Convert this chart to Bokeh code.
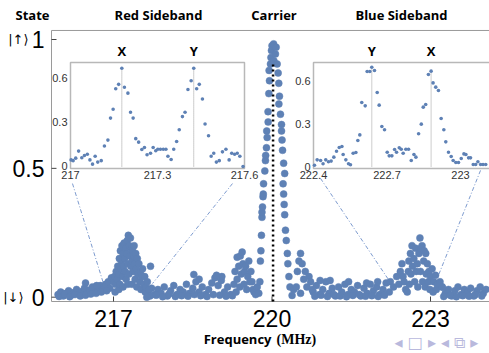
from bokeh.plotting import figure
from bokeh.models import Range1d
from bokeh.embed import file_html
from bokeh.resources import INLINE
from bokeh.core.properties import value

# ---------------- data ----------------
# main scan: (frequency MHz, population of |up>)
background_points = [
    (215.95, 0.010), (216.00, 0.020), (216.05, 0.005), (216.10, 0.015), (216.15, 0.025), (216.20, 0.008),
    (216.25, 0.018), (216.30, 0.030), (216.35, 0.012), (216.40, 0.022), (216.45, 0.035), (216.50, 0.015),
    (216.55, 0.028), (216.60, 0.040), (216.65, 0.020), (216.70, 0.032), (216.75, 0.045), (216.80, 0.030),
    (216.85, 0.050), (216.90, 0.060), (216.93, 0.035), (216.96, 0.075),
    (215.97, 0.003), (216.07, 0.012), (216.17, 0.002), (216.27, 0.010), (216.37, 0.005), (216.47, 0.008),
    (216.57, 0.012), (216.67, 0.015), (216.77, 0.020), (216.87, 0.025), (216.47, 0.055), (216.68, 0.045),
    (217.66, 0.020), (217.72, 0.035), (217.78, 0.010), (217.84, 0.030), (217.90, 0.015), (217.96, 0.040),
    (218.02, 0.005), (218.08, 0.025), (218.14, 0.045), (218.20, 0.010), (218.26, 0.030), (218.32, 0.020),
    (218.38, 0.050), (218.44, 0.015), (218.50, 0.035), (218.56, 0.060), (218.62, 0.020), (218.68, 0.040),
    (218.74, 0.010), (218.80, 0.030), (218.86, 0.055), (218.92, 0.075), (218.98, 0.045), (219.04, 0.065),
    (219.10, 0.020), (219.16, 0.040), (219.22, 0.010),
    (217.69, 0.005), (217.81, 0.008), (217.93, 0.002), (218.05, 0.012), (218.17, 0.003), (218.29, 0.006),
    (218.41, 0.004), (218.53, 0.010), (218.65, 0.006), (218.77, 0.003), (218.89, 0.010), (219.01, 0.008),
    (219.13, 0.004), (219.25, 0.006), (218.52, 0.088), (218.62, 0.070), (219.05, 0.080), (218.95, 0.085),
    (220.78, 0.020), (220.84, 0.045), (220.90, 0.010), (220.96, 0.030), (221.02, 0.060), (221.08, 0.015),
    (221.14, 0.035), (221.20, 0.005), (221.26, 0.040), (221.32, 0.020), (221.38, 0.050), (221.44, 0.010),
    (221.50, 0.030), (221.56, 0.020), (221.62, 0.045), (221.68, 0.005), (221.74, 0.035), (221.80, 0.015),
    (221.86, 0.050), (221.92, 0.025), (221.98, 0.040), (222.04, 0.010), (222.10, 0.030), (222.16, 0.055),
    (222.22, 0.020),
    (220.81, 0.004), (220.93, 0.008), (221.05, 0.003), (221.17, 0.010), (221.29, 0.005), (221.41, 0.002),
    (221.53, 0.007), (221.65, 0.010), (221.77, 0.004), (221.89, 0.006), (222.01, 0.003), (222.13, 0.008),
    (220.91, 0.065), (221.10, 0.065), (221.45, 0.060), (221.79, 0.055), (222.00, 0.060),
    (223.22, 0.040), (223.28, 0.015), (223.34, 0.030), (223.40, 0.005), (223.46, 0.025), (223.52, 0.040),
    (223.58, 0.010), (223.64, 0.030), (223.70, 0.020), (223.76, 0.035), (223.82, 0.005), (223.88, 0.025),
    (223.94, 0.040), (224.00, 0.015), (224.05, 0.030),
    (223.25, 0.003), (223.37, 0.008), (223.49, 0.002), (223.61, 0.006), (223.73, 0.004), (223.85, 0.010),
    (223.97, 0.005),
]

red_sideband_points = [
    (217.00, 0.06), (217.02, 0.08), (217.03, 0.02), (217.04, 0.05), (217.05, 0.10), (217.07, 0.07),
    (217.08, 0.12), (217.10, 0.09), (217.10, 0.03), (217.11, 0.15), (217.12, 0.05), (217.13, 0.18),
    (217.14, 0.11), (217.15, 0.14), (217.16, 0.20), (217.17, 0.08), (217.18, 0.17), (217.18, 0.04),
    (217.19, 0.12), (217.20, 0.21), (217.21, 0.15), (217.22, 0.10), (217.23, 0.19), (217.24, 0.07),
    (217.25, 0.17), (217.26, 0.22), (217.27, 0.13), (217.27, 0.05), (217.28, 0.24), (217.29, 0.09),
    (217.30, 0.20), (217.31, 0.16), (217.32, 0.23), (217.33, 0.12), (217.34, 0.19), (217.35, 0.14),
    (217.35, 0.05), (217.36, 0.18), (217.37, 0.10), (217.38, 0.16), (217.39, 0.20), (217.40, 0.13),
    (217.41, 0.07), (217.42, 0.17), (217.43, 0.11), (217.44, 0.04), (217.45, 0.15), (217.46, 0.09),
    (217.48, 0.13), (217.50, 0.06), (217.51, 0.10), (217.52, 0.03), (217.53, 0.08), (217.55, 0.11),
    (217.57, 0.05), (217.59, 0.08), (217.60, 0.02), (217.61, 0.04), (217.63, 0.00), (217.64, 0.06),
    (217.67, 0.03), (217.70, 0.12),
]

carrier_points = [
    (219.28, 0.05), (219.30, 0.10), (219.32, 0.02), (219.34, 0.155), (219.34, 0.07), (219.37, 0.12),
    (219.39, 0.04), (219.40, 0.16), (219.42, 0.09), (219.435, 0.175), (219.45, 0.13), (219.47, 0.05),
    (219.48, 0.10), (219.50, 0.12), (219.52, 0.03), (219.54, 0.08), (219.56, 0.14), (219.58, 0.06),
    (219.60, 0.10), (219.62, 0.06), (219.64, 0.03), (219.66, 0.02), (219.69, 0.01), (219.72, 0.04),
    (219.75, 0.015), (219.77, 0.06), (219.78, 0.14), (219.79, 0.18), (219.80, 0.24), (219.81, 0.31),
    (219.81, 0.33), (219.82, 0.35), (219.83, 0.39), (219.835, 0.40), (219.84, 0.44), (219.864, 0.49),
    (219.876, 0.53), (219.88, 0.55), (219.895, 0.58), (219.908, 0.62), (219.90, 0.645), (219.927, 0.68),
    (219.925, 0.72), (219.94, 0.79), (219.952, 0.84), (219.945, 0.88), (219.971, 0.905), (219.98, 0.93),
    (219.99, 0.957), (220.00, 0.976), (220.03, 0.983), (220.078, 0.97), (220.065, 0.944), (220.035, 0.918),
    (220.097, 0.905), (220.116, 0.87), (220.128, 0.83), (220.141, 0.78), (220.13, 0.75), (220.16, 0.71),
    (220.18, 0.67), (220.18, 0.645), (220.19, 0.61), (220.20, 0.57), (220.22, 0.52), (220.24, 0.48),
    (220.21, 0.44), (220.22, 0.40), (220.23, 0.36), (220.24, 0.32), (220.255, 0.26), (220.27, 0.22),
    (220.29, 0.17), (220.30, 0.13), (220.32, 0.08), (220.34, 0.04), (220.38, 0.007), (220.41, 0.03),
    (220.46, 0.04), (220.48, 0.10), (220.51, 0.14), (220.54, 0.17), (220.54, 0.015), (220.57, 0.13),
    (220.60, 0.07), (220.63, 0.10), (220.66, 0.04), (220.70, 0.08), (220.73, 0.06), (220.76, 0.03),
]

blue_sideband_points = [
    (222.24, 0.06), (222.30, 0.04), (222.36, 0.08), (222.40, 0.05), (222.43, 0.10), (222.46, 0.13),
    (222.48, 0.08), (222.50, 0.06), (222.53, 0.03), (222.56, 0.02), (222.58, 0.10), (222.59, 0.14),
    (222.60, 0.05), (222.62, 0.17), (222.63, 0.09), (222.65, 0.20), (222.66, 0.12), (222.685, 0.15),
    (222.70, 0.06), (222.72, 0.19), (222.73, 0.10), (222.75, 0.13), (222.76, 0.04), (222.78, 0.17),
    (222.80, 0.23), (222.81, 0.10), (222.82, 0.19), (222.84, 0.20), (222.85, 0.06), (222.87, 0.14),
    (222.88, 0.18), (222.90, 0.04), (222.91, 0.17), (222.92, 0.09), (222.94, 0.13), (222.96, 0.06),
    (222.97, 0.10), (222.99, 0.03), (223.00, 0.08), (223.03, 0.11), (223.05, 0.02), (223.06, 0.06),
    (223.095, 0.085), (223.11, 0.03), (223.13, 0.05), (223.18, 0.06), (223.22, 0.04),
]

# insets: fine scans
red_inset_points = [
    (217.002, 0.045), (217.009, 0.040), (217.018, 0.057), (217.028, 0.105), (217.039, 0.060), (217.048, 0.075),
    (217.058, 0.084), (217.067, 0.045), (217.076, 0.016), (217.085, 0.070), (217.094, 0.030), (217.106, 0.040),
    (217.117, 0.140), (217.129, 0.180), (217.138, 0.330), (217.147, 0.390), (217.156, 0.530), (217.166, 0.560),
    (217.177, 0.670), (217.186, 0.540), (217.198, 0.500), (217.207, 0.370), (217.216, 0.330), (217.225, 0.190),
    (217.235, 0.166), (217.246, 0.116), (217.255, 0.130), (217.264, 0.080), (217.276, 0.090), (217.285, 0.130),
    (217.294, 0.107), (217.301, 0.118), (217.310, 0.118), (217.320, 0.118), (217.329, 0.118), (217.336, 0.070),
    (217.347, 0.048), (217.356, 0.118), (217.366, 0.170), (217.375, 0.250), (217.386, 0.340), (217.395, 0.370),
    (217.405, 0.525), (217.416, 0.585), (217.425, 0.670), (217.435, 0.530), (217.444, 0.560), (217.455, 0.460),
    (217.464, 0.290), (217.476, 0.210), (217.485, 0.070), (217.494, 0.090), (217.503, 0.030), (217.513, 0.040),
    (217.524, 0.100), (217.536, 0.118), (217.547, 0.045), (217.556, 0.090), (217.566, 0.084), (217.575, 0.090),
    (217.584, 0.070), (217.595, 0.000),
]

blue_inset_points = [
    (222.404, 0.009), (222.415, 0.047), (222.429, 0.042), (222.439, 0.019), (222.450, 0.047), (222.461, 0.033),
    (222.472, 0.038), (222.483, 0.066), (222.494, 0.108), (222.505, 0.134), (222.516, 0.141), (222.521, 0.085),
    (222.532, 0.047), (222.543, 0.019), (222.551, 0.012), (222.562, 0.094), (222.573, 0.099), (222.581, 0.183),
    (222.589, 0.223), (222.597, 0.452), (222.611, 0.428), (222.619, 0.670), (222.630, 0.670), (222.638, 0.701),
    (222.649, 0.677), (222.660, 0.522), (222.668, 0.433), (222.679, 0.282), (222.690, 0.259), (222.701, 0.101),
    (222.709, 0.075), (222.720, 0.075), (222.731, 0.120), (222.739, 0.101), (222.750, 0.132), (222.758, 0.122),
    (222.766, 0.094), (222.777, 0.122), (222.788, 0.122), (222.799, 0.042), (222.810, 0.085), (222.818, 0.066),
    (222.829, 0.231), (222.840, 0.299), (222.848, 0.419), (222.858, 0.438), (222.869, 0.649), (222.880, 0.673),
    (222.888, 0.590), (222.899, 0.560), (222.910, 0.536), (222.921, 0.339), (222.932, 0.259), (222.940, 0.174),
    (222.951, 0.101), (222.962, 0.071), (222.970, 0.042), (222.981, 0.028), (222.992, 0.028), (223.003, 0.056),
    (223.014, 0.089), (223.022, 0.085), (223.033, 0.061), (223.041, 0.061), (223.052, 0.014), (223.062, 0.014),
    (223.071, 0.033), (223.082, 0.014), (223.092, 0.014), (223.103, 0.014),
]

red_peak_freq = [217.177, 217.425]
red_peak_pop = [0.67, 0.67]
red_peak_names = ["X", "Y"]
blue_peak_freq = [222.638, 222.880]
blue_peak_pop = [0.701, 0.673]
blue_peak_names = ["Y", "X"]
carrier_line_freq = [220.02]

main_xticks = [217, 220, 223]
main_xtick_labels = ["217", "220", "223"]
main_yticks = [0, 0.5, 1]
main_ytick_labels = ["0", "0.5", "1"]
red_inset_xticks = [217, 217.3, 217.6]
red_inset_xlabels = ["217", "217.3", "217.6"]
blue_inset_xticks = [222.4, 222.7, 223]
blue_inset_xlabels = ["222.4", "222.7", "223"]
inset_yticks = [0, 0.3, 0.6]
inset_ylabels = ["0", "0.3", "0.6"]

section_titles = ["State", "Red Sideband", "Carrier", "Blue Sideband"]
section_title_freq = [215.466, 217.851, 220.038, 222.451]
x_label_word = "Frequency"
x_label_unit = "(MHz)"
ket_up = "|↑⟩"
ket_down = "|↓⟩"
nav_symbols = "◂ □ ▸   ◂ ⧉ ▸"


def unzip(points):
    return [a for a, b in points], [b for a, b in points]


POINT = "#5e81b5"
FRAME = "#9a9a9a"
BOLD_FONT = "Open Sans"
NUM_FONT = "Liberation Sans"

# main data window (frequency / population) and where it sits in the picture
X0, X1 = 215.826, 224.117
Y0, Y1 = -0.0167, 1.035
TICK_DX, TICK_DY = 0.0946, 0.0194          # 5 px tick marks
TITLE_Y, XLABEL_Y, NAV_Y = 1.097, -0.164, -0.176

p = figure(width=489, height=353, output_backend="svg", toolbar_location=None, title=None,
           x_range=Range1d(214.8606, 224.1168), y_range=Range1d(-0.21847, 1.15134),
           min_border=0, x_axis_location=None, y_axis_location=None)
p.outline_line_color = None
p.background_fill_color = "white"
p.border_fill_color = "white"
p.xgrid.visible = False
p.ygrid.visible = False

# inset coordinate systems (linear maps over the same canvas)
p.extra_x_ranges = {"lx": Range1d(216.75862, 218.44483), "rx": Range1d(221.12245, 223.11837)}
p.extra_y_ranges = {"ly": Range1d(-1.27471, 1.13156), "ry": Range1d(-1.31969, 1.17149)}

# ---- main frame and axes ----
p.segment(x0=[X0, X0, X0], y0=[Y0, Y1, Y0], x1=[X0, X1, X1], y1=[Y1, Y1, Y0],
          line_color=FRAME, line_width=1)
p.segment(x0=main_xticks, y0=[Y0] * 3, x1=main_xticks, y1=[Y0 + TICK_DY] * 3,
          line_color="#444444", line_width=1)
p.segment(x0=[X0] * 3, y0=main_yticks, x1=[X0 + TICK_DX] * 3, y1=main_yticks,
          line_color="#444444", line_width=1)
p.text(x=main_xticks, y=[Y0] * 3, text=main_xtick_labels, text_align="center", text_baseline="top",
       y_offset=8, text_font=value(NUM_FONT), text_font_size="23px", text_color="black")
p.text(x=[X0] * 3, y=main_yticks, text=main_ytick_labels, text_align="right", text_baseline="middle",
       x_offset=-7, text_font=value(NUM_FONT), text_font_size="23px", text_color="black")
p.text(x=[X0], y=[1], text=[ket_up], text_align="right", text_baseline="middle", x_offset=-23,
       text_font=value("DejaVu Sans"), text_font_size="13px", text_color="black")
p.text(x=[X0], y=[0], text=[ket_down], text_align="right", text_baseline="middle", x_offset=-28,
       text_font=value("DejaVu Sans"), text_font_size="13px", text_color="black")

# titles
p.text(x=section_title_freq, y=[TITLE_Y] * len(section_titles), text=section_titles,
       text_align="center", text_baseline="middle", text_font=value(BOLD_FONT),
       text_font_size="13px", text_font_style="bold", text_color="black")
p.text(x=[219.99], y=[XLABEL_Y], text=[x_label_word], text_align="right", text_baseline="middle",
       text_font=value(BOLD_FONT), text_font_size="13px", text_font_style="bold", text_color="black")
p.text(x=[220.085], y=[XLABEL_Y], text=[x_label_unit], text_align="left", text_baseline="middle",
       text_font=value("Liberation Serif"), text_font_size="14px", text_font_style="bold", text_color="black")
p.text(x=[223.208], y=[NAV_Y], text=[nav_symbols], text_align="center", text_baseline="middle",
       text_font=value("DejaVu Sans"), text_font_size="16px", text_color="#b9b9dd")

# connectors from insets to the main scan
p.segment(x0=[216.223, 219.252, 220.918, 223.947], y0=[0.441, 0.441, 0.461, 0.492],
          x1=[216.810, 217.738, 222.281, 223.133], y1=[0.053, 0.053, 0.045, 0.076],
          line_color="#7d9bcf", line_width=1, line_dash="4 2 1 2")

# main scan
for pts in (background_points, red_sideband_points, carrier_points, blue_sideband_points):
    fx, fy = unzip(pts)
    p.scatter(fx, fy, size=7, fill_color=POINT, line_color=POINT, line_width=0.5)

# carrier marker line
p.segment(x0=carrier_line_freq, y0=[Y0], x1=carrier_line_freq, y1=[0.905],
          line_color="black", line_width=2.5, line_dash="2 3")

# ----- insets -----
insets = [
    ("lx", "ly", red_inset_points, red_inset_xticks, red_inset_xlabels, red_peak_freq, red_peak_pop,
     red_peak_names, 0.709, -0.0136, 217.6),
    ("rx", "ry", blue_inset_points, blue_inset_xticks, blue_inset_xlabels, blue_peak_freq, blue_peak_pop,
     blue_peak_names, 0.734, -0.014, 223.2),
]
for xr, yr, pts, xt, xl, pf, pp, pn, top, bottom, right in insets:
    left = xt[0]
    p.quad(left=[left], right=[right], bottom=[bottom], top=[top], x_range_name=xr, y_range_name=yr,
           fill_color="white", line_color="#b8b8b8", line_width=1.5)
    p.segment(x0=pf, y0=[0] * len(pf), x1=pf, y1=pp, x_range_name=xr, y_range_name=yr,
              line_color="#9a9a9a", line_width=1, line_dash="1 1")
    fx, fy = unzip(pts)
    p.scatter(fx, fy, size=3.6, fill_color=POINT, line_color=None, x_range_name=xr, y_range_name=yr)
    p.text(x=xt, y=[bottom] * len(xt), text=xl, x_range_name=xr, y_range_name=yr,
           text_align="center", text_baseline="top", y_offset=3,
           text_font=value(NUM_FONT), text_font_size="11px", text_color="#333333")
    p.text(x=[left] * len(inset_yticks), y=inset_yticks, text=inset_ylabels, x_range_name=xr, y_range_name=yr,
           text_align="right", text_baseline="middle", x_offset=-3,
           text_font=value(NUM_FONT), text_font_size="11px", text_color="#333333")
    p.text(x=pf, y=[top] * len(pf), text=pn, x_range_name=xr, y_range_name=yr,
           text_align="center", text_baseline="middle", y_offset=-11,
           text_font=value(BOLD_FONT), text_font_size="13px", text_font_style="bold", text_color="black")

open("out.html", "w").write(file_html(p, INLINE))
